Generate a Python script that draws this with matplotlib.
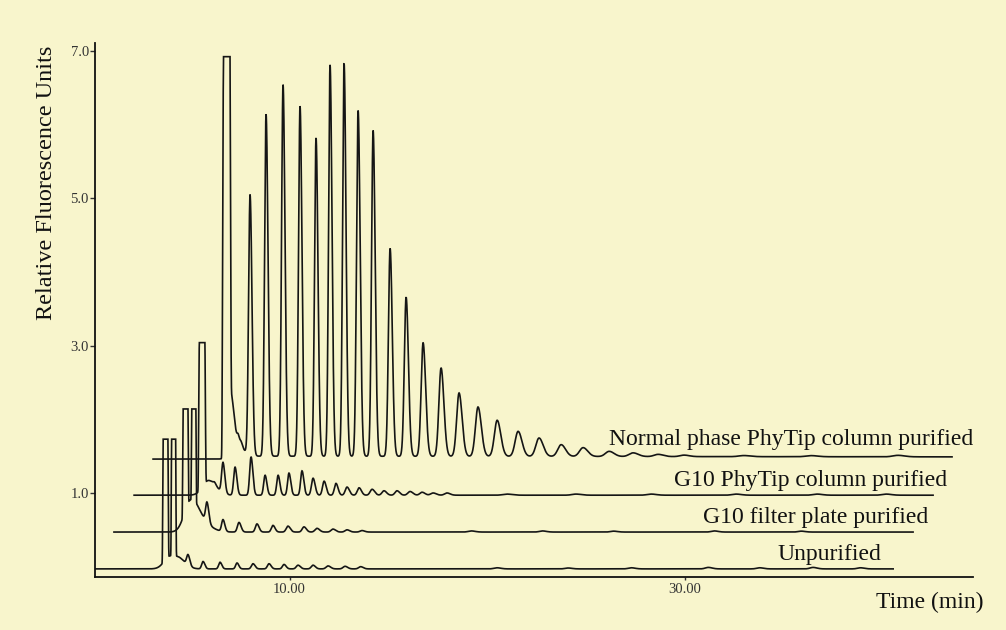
import numpy as np
import matplotlib
matplotlib.use("Agg")
import matplotlib.pyplot as plt

# ---------------- data ----------------
# each trace: start/end time (min, as plotted), baseline level, saturation level
trace_names = ["Unpurified", "G10 filter plate purified",
               "G10 PhyTip column purified", "Normal phase PhyTip column purified"]
trace_start = [0.15, 1.11, 2.13, 3.09]
trace_end = [40.56, 41.57, 42.58, 43.54]
trace_base = [-0.03, 0.47, 0.97, 1.50]
trace_sat = [1.73, 2.14, 3.04, 6.92]

# saturated (flat-topped) peaks: centre, half-width, height above baseline
unp_plateau_c = [3.72, 4.13]
unp_plateau_w = [0.13, 0.11]
unp_plateau_h = [2.2, 2.2]
g10f_plateau_c = [4.73, 5.15]
g10f_plateau_w = [0.13, 0.11]
g10f_plateau_h = [2.0, 2.0]
g10t_plateau_c = [5.57]
g10t_plateau_w = [0.16]
g10t_plateau_h = [2.4]
np_plateau_c = [6.81]
np_plateau_w = [0.19]
np_plateau_h = [6.0]

# ordinary peaks: centre (min), height above baseline, sigma (min)
unp_peak_c = [3.95, 4.5, 4.86, 5.62, 6.48, 7.34, 8.15, 8.96, 9.72, 10.43, 11.19, 11.95, 12.81, 13.6,
              20.5, 24.1, 27.3, 31.2, 33.8, 36.5, 38.9]
unp_peak_h = [0.17, 0.08, 0.14, 0.10, 0.09, 0.08, 0.07, 0.07, 0.06, 0.05, 0.05, 0.04, 0.035, 0.03,
              0.015, 0.012, 0.015, 0.02, 0.015, 0.02, 0.015]
unp_peak_s = [0.30, 0.25, 0.07, 0.07, 0.07, 0.07, 0.08, 0.08, 0.08, 0.09, 0.09, 0.1, 0.1, 0.1,
              0.15, 0.15, 0.15, 0.15, 0.15, 0.15, 0.15]

g10f_peak_c = [4.95, 5.4, 5.82, 6.63, 7.44, 8.35, 9.16, 9.92, 10.73, 11.39, 12.2, 12.91, 13.67,
               19.2, 22.8, 26.4, 31.5, 35.9]
g10f_peak_h = [0.35, 0.15, 0.27, 0.16, 0.13, 0.11, 0.09, 0.08, 0.07, 0.05, 0.04, 0.03, 0.02,
               0.015, 0.015, 0.012, 0.015, 0.012]
g10f_peak_s = [0.30, 0.40, 0.07, 0.07, 0.08, 0.08, 0.08, 0.09, 0.09, 0.1, 0.1, 0.1, 0.1,
               0.15, 0.15, 0.15, 0.15, 0.15]

g10t_peak_c = [5.9, 6.2, 6.63, 7.24, 8.05, 8.76, 9.42, 9.97, 10.63, 11.19, 11.75, 12.35, 12.91, 13.52,
               14.18, 14.78, 15.44, 16.1, 16.71, 17.27, 17.97, 21.0, 24.5, 28.3, 32.6, 36.7, 40.2]
g10t_peak_h = [0.20, 0.03, 0.41, 0.38, 0.52, 0.27, 0.27, 0.30, 0.33, 0.23, 0.19, 0.16, 0.11, 0.10,
               0.08, 0.06, 0.06, 0.05, 0.04, 0.03, 0.03, 0.015, 0.015, 0.015, 0.015, 0.015, 0.015]
g10t_peak_s = [0.30, 0.06, 0.07, 0.07, 0.07, 0.07, 0.07, 0.07, 0.07, 0.08, 0.08, 0.08, 0.09, 0.09,
               0.1, 0.1, 0.1, 0.11, 0.11, 0.12, 0.12, 0.2, 0.2, 0.2, 0.2, 0.2, 0.2]

np_peak_c = [7.0, 7.25, 7.4, 7.55, 8.0, 8.81, 9.67, 10.53, 11.34, 12.05, 12.76, 13.47, 14.23, 15.09,
             15.9, 16.76, 17.67, 18.58, 19.54, 20.51, 21.57, 22.63, 23.75, 24.86, 26.18, 27.39,
             28.66, 29.97, 33.0, 36.4, 40.8]
np_peak_h = [0.75, 0.22, 0.08, 0.05, 3.53, 4.64, 5.04, 4.75, 4.32, 5.31, 5.33, 4.69, 4.42, 2.82,
             2.16, 1.54, 1.20, 0.86, 0.67, 0.49, 0.34, 0.25, 0.16, 0.12, 0.07, 0.05,
             0.03, 0.02, 0.015, 0.015, 0.02]
np_peak_s = [0.12, 0.25, 0.05, 0.05, 0.075, 0.075, 0.075, 0.075, 0.075, 0.075, 0.075, 0.08, 0.08,
             0.085, 0.09, 0.10, 0.11, 0.12, 0.13, 0.14, 0.15, 0.16, 0.17, 0.18, 0.19, 0.2,
             0.2, 0.2, 0.25, 0.25, 0.25]

# baseline knots for the top trace (slight step under the large peak)
np_base_x = [3.09, 6.6, 7.5, 43.54]
np_base_y = [1.46, 1.46, 1.50, 1.49]

y_ticks = [1.0, 3.0, 5.0, 7.0]
y_ticklabels = ["1.0", "3.0", "5.0", "7.0"]
x_ticks = [10, 30]
x_ticklabels = ["10.00", "30.00"]

# label anchor positions (data coords, left/baseline)
label_x = [34.68, 30.94, 29.47, 26.18]
label_y = [0.09, 0.593, 1.095, 1.65]

# ---------------- helpers ----------------
def plateaus(x, cs, ws, hs):
    y = np.zeros_like(x)
    for c, w, h in zip(cs, ws, hs):
        y += h * np.exp(-0.5 * np.abs((x - c) / w) ** 8)
    return y

def peaks(x, cs, hs, ss, tail=1.3):
    y = np.zeros_like(x)
    for c, h, s in zip(cs, hs, ss):
        sig = np.where(x < c, s, s * tail)
        y += h * np.exp(-0.5 * ((x - c) / sig) ** 2)
    return y

BG = "#f8f5cc"
fig = plt.figure(figsize=(10.06, 6.30), dpi=100, facecolor=BG)
ax = fig.add_axes([95 / 1006, 1 - 577 / 630, 878 / 1006, (577 - 43.4) / 630])
ax.set_facecolor(BG)

plat_sets = [
    (unp_plateau_c, unp_plateau_w, unp_plateau_h, unp_peak_c, unp_peak_h, unp_peak_s),
    (g10f_plateau_c, g10f_plateau_w, g10f_plateau_h, g10f_peak_c, g10f_peak_h, g10f_peak_s),
    (g10t_plateau_c, g10t_plateau_w, g10t_plateau_h, g10t_peak_c, g10t_peak_h, g10t_peak_s),
    (np_plateau_c, np_plateau_w, np_plateau_h, np_peak_c, np_peak_h, np_peak_s),
]

for i, (pc, pw, ph, kc, kh, ks) in enumerate(plat_sets):
    x = np.arange(trace_start[i], trace_end[i], 0.004)
    if i == 3:
        base = np.interp(x, np_base_x, np_base_y)
    else:
        base = np.full_like(x, trace_base[i])
    sig = plateaus(x, pc, pw, ph) + peaks(x, kc, kh, ks)
    y = np.minimum(base + sig, trace_sat[i])
    ax.plot(x, y, color="#151515", lw=1.2, solid_joinstyle="miter")

serif = "Liberation Serif"
for i in range(4):
    ax.text(label_x[i], label_y[i], trace_names[i], ha="left", va="baseline",
            fontsize=17, family=serif, color="#111111")

ax.set_xlim(0.15, 44.6)
ax.set_ylim(-0.14, 7.1)
ax.spines["top"].set_visible(False)
ax.spines["right"].set_visible(False)
for s in ("left", "bottom"):
    ax.spines[s].set_linewidth(1.3)
    ax.spines[s].set_color("#111111")

ax.set_yticks(y_ticks)
ax.set_yticklabels(y_ticklabels, family=serif, fontsize=10.5, color="#333333")
ax.set_xticks(x_ticks)
ax.set_xticklabels(x_ticklabels, family=serif, fontsize=10.5, color="#333333")
ax.tick_params(axis="y", length=3.5, width=1, pad=1, color="#333333")
ax.tick_params(axis="x", length=2.5, width=1, pad=2, color="#333333")

fig.text(876 / 1006, 1 - 608 / 630, "Time (min)", ha="left", va="baseline",
         fontsize=17, family=serif, color="#111111")
fig.text(47 / 1006, 1 - 183 / 630, "Relative Fluorescence Units", rotation=90,
         ha="center", va="center", fontsize=17.5, family=serif, color="#111111")

fig.savefig("out.png", dpi=100, facecolor=BG)
